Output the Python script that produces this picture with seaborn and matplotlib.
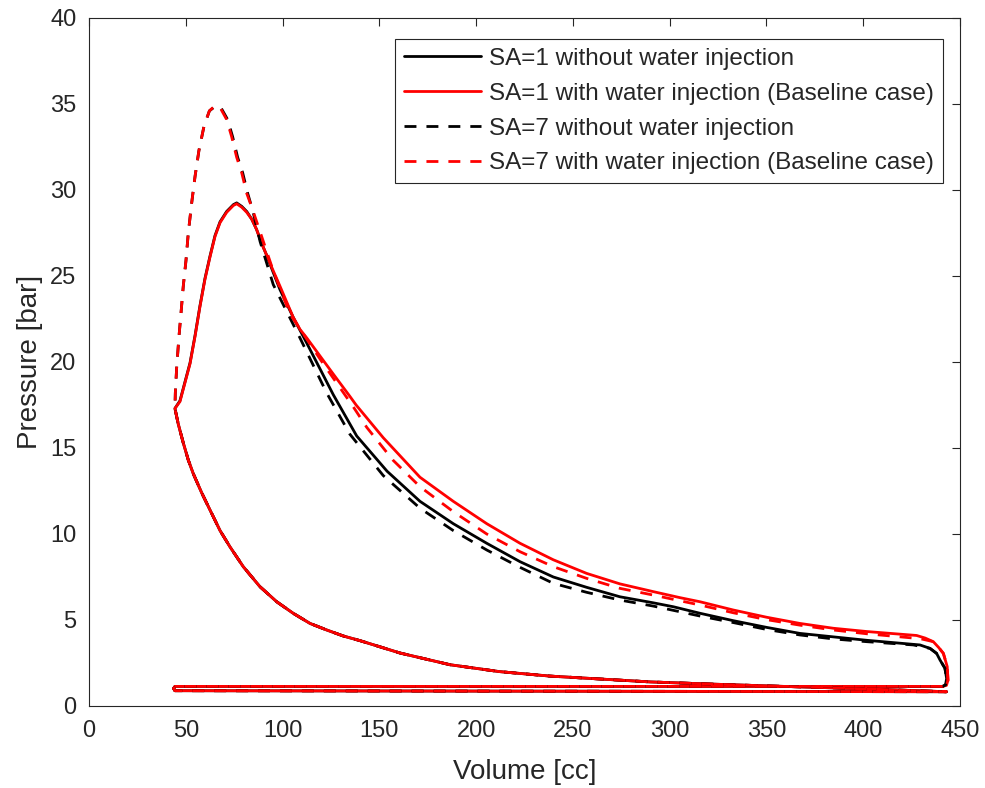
import matplotlib
matplotlib.use("Agg")
import matplotlib.pyplot as plt
import pandas as pd
import seaborn as sns

# ---------------- data ----------------
# shared compression stroke (BDC -> TDC)
comp_v = [443, 420, 400, 380, 350, 320, 290, 264, 238, 212, 186.5, 160.7, 140, 131.4, 122.8, 114.2, 105.5, 97.0,
          88.3, 79.7, 72.8, 67.7, 62.5, 58.2, 53.9, 51.3, 48.7, 46.1, 44.4]
comp_p = [0.83, 0.92, 1.0, 1.07, 1.17, 1.28, 1.4, 1.57, 1.74, 2.0, 2.4, 3.08, 3.8, 4.07, 4.42, 4.8, 5.39, 6.06,
          6.94, 8.1, 9.26, 10.2, 11.4, 12.4, 13.5, 14.3, 15.3, 16.4, 17.3]
# shared gas exchange (exhaust then intake)
exh_v = [441, 44.4, 43.7]
exh_p = [1.14, 1.14, 1.02]
int_v = [44.4, 443]
int_p = [0.89, 0.83]

# SA=1 without water injection (black solid) - combustion + expansion
bs_v = [44.4, 47.0, 49.6, 52.2, 54.8, 57.3, 59.9, 62.5, 65.1, 67.7, 71.1, 74.6, 76.3, 78.9, 81.5, 84.1, 86.6, 89.2,
        91.8, 95.2, 98.7, 105.5, 112.5, 126.2, 138.3, 154, 171, 188.2, 205.5, 222.7, 239.9, 257.1, 274.3, 291.5,
        301.9, 315.7, 332.9, 350.1, 367.3, 384.5, 401.8, 429.3, 434.5, 437.9, 439.7, 442.2, 443.1, 442.5, 441]
bs_p = [17.3, 17.75, 18.85, 19.95, 21.55, 23.25, 24.85, 26.15, 27.35, 28.15, 28.75, 29.15, 29.25, 29.05, 28.75, 28.3,
        27.7, 26.9, 26.2, 25.2, 24.2, 22.6, 21.1, 18.1, 15.7, 13.65, 11.9, 10.6, 9.46, 8.39, 7.5, 6.9, 6.35, 6.0,
        5.77, 5.39, 4.96, 4.57, 4.22, 4.02, 3.82, 3.55, 3.35, 3.06, 2.67, 2.2, 1.6, 1.22, 1.14]

# SA=1 with water injection (red solid)
rs_v = [44.4, 47.0, 49.6, 52.2, 54.8, 57.3, 59.9, 62.5, 65.1, 67.7, 71.1, 74.6, 76.3, 78.9, 81.5, 84.1, 86.6, 89.2,
        91.8, 95.2, 98.7, 102.1, 105.5, 109, 112.5, 126.2, 134.8, 138, 152, 171, 188.2, 205.5, 222.7, 239.9, 257.1,
        274.3, 291.5, 305.3, 315.7, 332.9, 350.1, 367.3, 384.5, 401.8, 427.6, 432, 436.2, 439, 441.4, 443.4, 443.8,
        443, 441]
rs_p = [17.3, 17.7, 18.8, 19.9, 21.5, 23.2, 24.8, 26.1, 27.3, 28.1, 28.7, 29.1, 29.2, 29.0, 28.7, 28.3, 27.7, 26.9,
        26.2, 25.3, 24.4, 23.5, 22.6, 21.9, 21.4, 19.3, 18.0, 17.5, 15.6, 13.3, 11.9, 10.6, 9.46, 8.5, 7.71,
        7.1, 6.65, 6.3, 6.06, 5.58, 5.16, 4.8, 4.52, 4.33, 4.1, 3.95, 3.74, 3.4, 3.06, 2.29, 1.5,
        1.2, 1.14]

# SA=7 without water injection (black dashed)
bd_v = [44.4, 44.6, 45.3, 46.5, 47.5, 48.7, 50.1, 51.3, 53.0, 54.8, 56.8, 59.4, 62.2, 65.6, 68.1, 71.6, 74.2, 76.8,
        79.4, 82.0, 84.6, 88.4, 95.2, 109, 122.8, 134.8, 152, 171, 188.2, 205.5, 222.7, 239.9, 257.1, 274.3, 291.5,
        315.7, 332.9, 350.1, 367.3, 384.5, 401.8, 425.9, 434.5, 437.9, 439.7, 442.2, 443.1, 442.5, 441]
bd_p = [17.3, 18.2, 19.7, 21.5, 22.8, 24.4, 25.9, 27.5, 29.2, 30.8, 32.3, 33.7, 34.6, 34.9, 34.8, 34.1, 33.1, 31.9,
        31.0, 29.8, 28.8, 27.0, 24.5, 21.4, 18.2, 15.8, 13.4, 11.5, 10.2, 9.07, 8.06, 7.13, 6.61, 6.16, 5.81,
        5.23, 4.85, 4.45, 4.13, 3.9, 3.74, 3.55, 3.35, 3.06, 2.67, 2.2, 1.6, 1.22, 1.14]

# SA=7 with water injection (red dashed)
rd_v = [44.4, 44.6, 45.3, 46.5, 47.5, 48.7, 50.1, 51.3, 53.0, 54.8, 56.8, 59.4, 62.2, 65.1, 67.7, 71.1, 73.7, 76.3,
        78.9, 81.5, 84.1, 95.2, 103.8, 121, 136.5, 143.5, 157, 171, 188.2, 205.5, 222.7, 239.9, 257.1, 274.3, 291.5,
        301.9, 315.7, 332.9, 350.1, 367.3, 384.5, 401.8, 425.9, 430, 436.2, 439, 441.4, 443.4, 443.8, 443, 441]
rd_p = [17.3, 18.2, 19.7, 21.5, 22.8, 24.4, 25.9, 27.5, 29.2, 30.8, 32.3, 33.7, 34.6, 34.9, 34.8, 34.1, 33.1, 31.9,
        31.0, 29.8, 29.0, 25.3, 22.8, 19.9, 17.4, 16.2, 14.3, 12.75, 11.3, 10.0, 8.97, 8.1, 7.42, 6.84, 6.45,
        6.2, 5.87, 5.42, 5.02, 4.7, 4.42, 4.2, 3.95, 3.9, 3.74, 3.4, 3.06, 2.29, 1.5, 1.2, 1.14]

labels = ["SA=1 without water injection",
          "SA=1 with water injection (Baseline case)",
          "SA=7 without water injection",
          "SA=7 with water injection (Baseline case)"]
x_ticks = [0, 50, 100, 150, 200, 250, 300, 350, 400, 450]
y_ticks = [0, 5, 10, 15, 20, 25, 30, 35, 40]

# ---------------- plotting ----------------
sns.set_theme(style="white")
plt.rcParams['font.family'] = ['Liberation Sans', 'DejaVu Sans']

fig = plt.figure(figsize=(9.85, 7.88), dpi=100)
ax = fig.add_axes([89 / 985, 82 / 788, 871 / 985, 688 / 788])

dash = (0, (4.3, 3.6))
series = [
    (labels[0], bs_v, bs_p, "black", "-"),
    (labels[1], rs_v, rs_p, "red", "-"),
    (labels[2], bd_v, bd_p, "black", dash),
    (labels[3], rd_v, rd_p, "red", dash),
]

for lab, v, p, col, ls in series:
    # closed cycle: exhaust -> intake -> compression -> combustion/expansion
    full_v = exh_v + int_v + comp_v + list(v)
    full_p = exh_p + int_p + comp_p + list(p)
    df = pd.DataFrame({"Volume": full_v, "Pressure": full_p})
    sns.lineplot(data=df, x="Volume", y="Pressure", sort=False, estimator=None,
                 color=col, linestyle=ls, linewidth=2, label=lab, ax=ax)

ax.set_xlim(0, 450)
ax.set_ylim(0, 40)
ax.set_xticks(x_ticks)
ax.set_yticks(y_ticks)
ax.set_xlabel("Volume [cc]", fontsize=20, color="#262626", labelpad=12)
ax.set_ylabel("Pressure [bar]", fontsize=20, color="#262626", labelpad=5)
ax.tick_params(direction="in", top=True, right=True, length=6, width=0.8,
               labelsize=17, colors="#262626")
ax.tick_params(axis="x", pad=10)
ax.tick_params(axis="y", pad=9)
for s in ax.spines.values():
    s.set_visible(True)
    s.set_color("#262626")
    s.set_linewidth(0.8)

leg = ax.legend(loc="upper right", bbox_to_anchor=(0.9805, 0.9695), borderaxespad=0,
                fontsize=17.5, handlelength=3.2, handletextpad=0.33, labelspacing=0.53,
                borderpad=0.36, frameon=True, fancybox=False,
                framealpha=1, edgecolor="#262626")
leg.get_frame().set_linewidth(0.8)

fig.savefig("out.png", dpi=100)
